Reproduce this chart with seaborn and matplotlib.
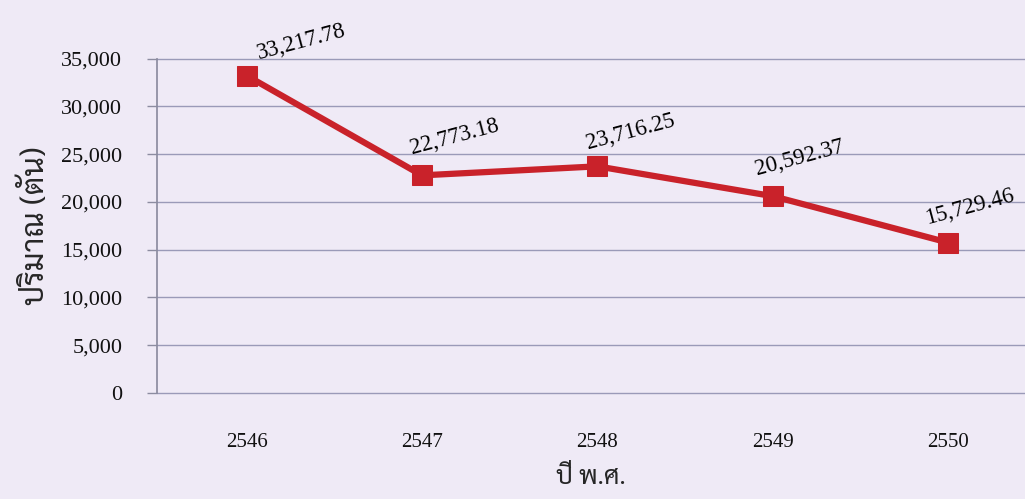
import matplotlib
matplotlib.use("Agg")
import matplotlib.pyplot as plt
import seaborn as sns
import pandas as pd

years = ["2546", "2547", "2548", "2549", "2550"]
tons = [33217.78, 22773.18, 23716.25, 20592.37, 15729.46]
value_labels = ["33,217.78", "22,773.18", "23,716.25", "20,592.37", "15,729.46"]
y_ticks = [0, 5000, 10000, 15000, 20000, 25000, 30000, 35000]
x_title = "ปี พ.ศ."
y_title = "ปริมาณ (ตัน)"

sns.set_theme(style="white")
plt.rcParams['font.family'] = ['Liberation Serif', 'Sarabun', 'DejaVu Sans']

df = pd.DataFrame({"year": years, "tons": tons})
bg = "#EFEAF6"
fig = plt.figure(figsize=(10.25, 4.99), dpi=100, facecolor=bg)
ax = fig.add_axes([157/1025, 1-393/499, 868/1025, (393-58.5)/499])
ax.set_facecolor(bg)

for t in y_ticks:
    ax.axhline(t, color="#9A9AB8", lw=1.0, zorder=0, clip_on=False)

sns.lineplot(data=df, x="year", y="tons", ax=ax, color="#C9222A", lw=4.5,
             marker="s", markersize=14.5, markeredgecolor="#C9222A", sort=False)

offsets = [(55, 34), (33, 38), (33, 34), (27, 38), (21, 36)]
for i, (lab, v) in enumerate(zip(value_labels, tons)):
    ax.annotate(lab, (i, v), xytext=offsets[i], textcoords="offset pixels",
                ha="center", va="center", rotation=15, fontsize=16.5, color="black")

ax.set_xlim(-0.51, 4.436)
ax.set_ylim(0, 35000)
ax.set_yticks(y_ticks)
ax.set_yticklabels([f"{t:,}" for t in y_ticks])
ax.tick_params(axis="y", labelsize=16, length=7, width=1, direction="out", left=True,
               color="#8C8CA0", labelcolor="#111111", pad=18)
ax.tick_params(axis="x", labelsize=15, length=0, pad=29, labelcolor="#111111")
for s in ["top", "right", "bottom"]:
    ax.spines[s].set_visible(False)
ax.spines["left"].set_color("#8C8CA0")
ax.set_xlabel(x_title, fontsize=18.5, family=['Sarabun', 'Liberation Serif'], labelpad=9)
ax.set_ylabel(y_title, fontsize=22, family=['Sarabun', 'Liberation Serif'], labelpad=7)
fig.savefig("out.png", dpi=100, facecolor=bg)
